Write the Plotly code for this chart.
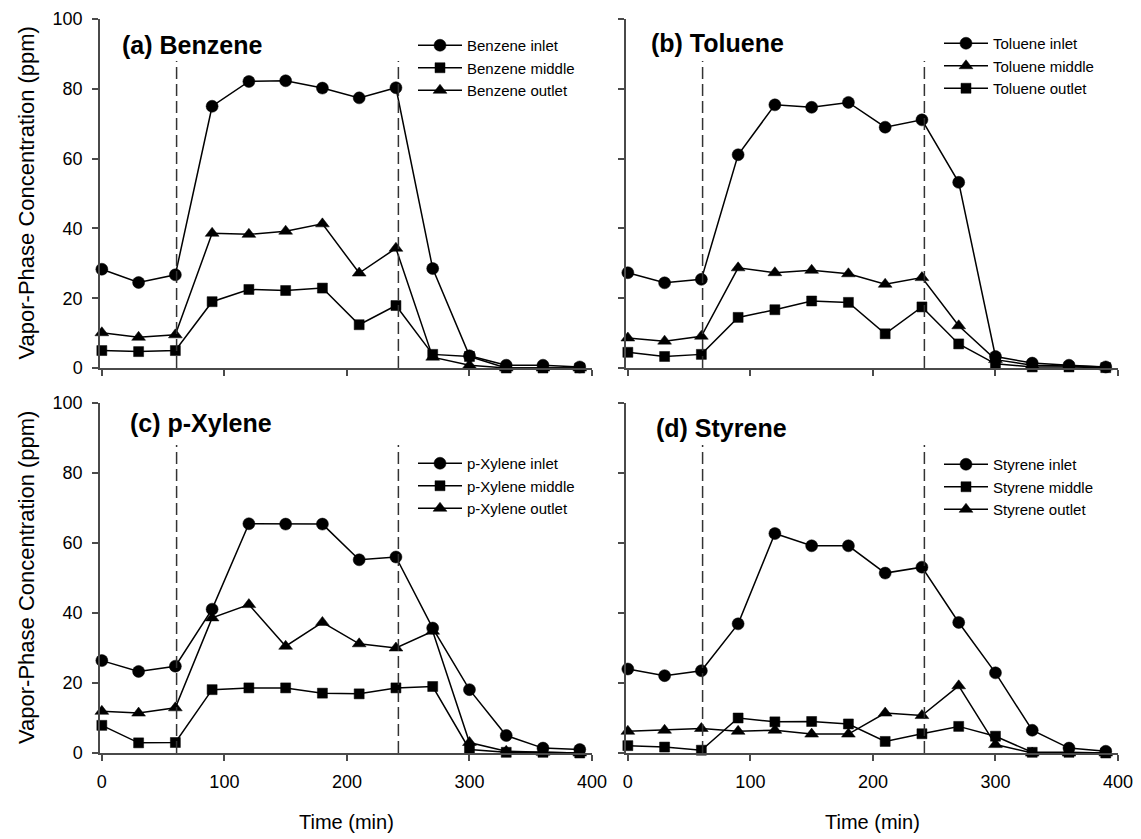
import plotly.graph_objects as go

# ---------------- data ----------------
time_min = [0, 30, 60, 90, 120, 150, 180, 210, 240, 270, 300, 330, 360, 390]
phase_times = [61, 242]          # dashed lines (start / stop of loading)
phase_line_top = 88

benzene_inlet  = [28.3, 24.5, 26.7, 75.0, 82.1, 82.3, 80.2, 77.4, 80.3, 28.5, 3.5, 0.8, 0.8, 0.3]
benzene_middle = [5.0, 4.7, 5.0, 19.0, 22.5, 22.2, 22.9, 12.4, 17.9, 3.9, 3.3, 0.0, 0.0, 0.0]
benzene_outlet = [10.1, 8.8, 9.5, 38.6, 38.3, 39.2, 41.3, 27.2, 34.3, 3.1, 0.8, 0.0, 0.0, 0.0]

toluene_inlet  = [27.3, 24.4, 25.4, 61.1, 75.4, 74.7, 76.1, 69.0, 71.1, 53.2, 3.3, 1.4, 0.8, 0.3]
toluene_middle = [8.6, 7.7, 9.1, 28.7, 27.3, 28.0, 27.0, 24.0, 25.9, 12.1, 2.4, 0.8, 0.6, 0.3]
toluene_outlet = [4.5, 3.3, 3.9, 14.5, 16.7, 19.2, 18.8, 9.8, 17.5, 6.9, 1.2, 0.3, 0.3, 0.1]

xylene_inlet  = [26.4, 23.3, 24.8, 41.1, 65.5, 65.4, 65.4, 55.2, 56.0, 35.7, 18.1, 5.0, 1.4, 1.0]
xylene_middle = [7.9, 2.9, 3.0, 18.1, 18.6, 18.6, 17.1, 16.9, 18.6, 19.0, 1.0, 0.2, 0.2, 0.0]
xylene_outlet = [11.9, 11.4, 12.9, 38.6, 42.4, 30.5, 37.3, 31.2, 30.0, 34.8, 3.0, 0.5, 0.2, 0.0]

styrene_inlet  = [24.0, 22.1, 23.5, 36.9, 62.7, 59.2, 59.2, 51.4, 53.1, 37.3, 22.9, 6.5, 1.4, 0.5]
styrene_middle = [2.1, 1.7, 0.8, 10.0, 8.9, 9.0, 8.3, 3.3, 5.5, 7.6, 4.8, 0.2, 0.2, 0.0]
styrene_outlet = [6.2, 6.5, 7.0, 6.2, 6.5, 5.4, 5.4, 11.4, 10.7, 19.2, 2.4, 0.0, 0.0, 0.0]

x_ticks = [0, 100, 200, 300, 400]
y_ticks = [0, 20, 40, 60, 80, 100]
x_title = "Time (min)"
y_title = "Vapor-Phase Concentration (ppm)"

panels = [
    dict(title="(a) Benzene", series=[("Benzene inlet", benzene_inlet, "circle"),
                                      ("Benzene middle", benzene_middle, "square"),
                                      ("Benzene outlet", benzene_outlet, "triangle-up")]),
    dict(title="(b) Toluene", series=[("Toluene inlet", toluene_inlet, "circle"),
                                      ("Toluene middle", toluene_middle, "triangle-up"),
                                      ("Toluene outlet", toluene_outlet, "square")]),
    dict(title="(c) p-Xylene", series=[("p-Xylene inlet", xylene_inlet, "circle"),
                                       ("p-Xylene middle", xylene_middle, "square"),
                                       ("p-Xylene outlet", xylene_outlet, "triangle-up")]),
    dict(title="(d) Styrene", series=[("Styrene inlet", styrene_inlet, "circle"),
                                      ("Styrene middle", styrene_middle, "square"),
                                      ("Styrene outlet", styrene_outlet, "triangle-up")]),
]

# ---------------- layout geometry ----------------
W, H = 1141, 839
FONT = "Liberation Sans, Arial, Helvetica, sans-serif"
AX = "#4a4a4a"

def px_x(p): return p / W
def px_y(p): return 1 - p / H

x_domains = [[px_x(100), px_x(592)], [px_x(626), px_x(1118)]]
y_domains = [[px_y(368), px_y(19)], [px_y(753), px_y(403)]]
title_pos = [(15, 92.6), (17, 93), (21, 94.3), (21, 92.9)]
legend_tops = [29, 27, 447, 448]
legend_lefts = [413, 939, 413, 939]

fig = go.Figure()
sizes = {"circle": 12, "square": 10, "triangle-up": 12}

for i, pan in enumerate(panels):
    r, c = divmod(i, 2)
    sfx = "" if i == 0 else str(i + 1)
    xa, ya = "x" + sfx, "y" + sfx
    leg = "legend" + sfx
    for name, vals, sym in pan["series"]:
        fig.add_trace(go.Scatter(
            x=time_min, y=vals, name=name, mode="lines+markers",
            xaxis=xa, yaxis=ya, legend=leg, cliponaxis=False,
            line=dict(color="black", width=1.5),
            marker=dict(symbol=sym, size=sizes[sym], color="black",
                        line=dict(color="black", width=0.5)),
        ))
    fig.layout["xaxis" + sfx] = dict(
        domain=x_domains[c], anchor=ya, range=[-1.5, 400],
        showgrid=False, zeroline=False, showline=True, linecolor=AX, linewidth=1.5,
        ticks="outside", ticklen=6, tickwidth=1.5, tickcolor=AX,
        tickvals=x_ticks, showticklabels=(r == 1), ticklabelstandoff=6,
        tickfont=dict(size=18, color="black", family=FONT), automargin=False)
    fig.layout["yaxis" + sfx] = dict(
        domain=y_domains[r], anchor=xa, range=[0, 100],
        showgrid=False, zeroline=False, showline=True, linecolor=AX, linewidth=1.5,
        ticks="outside", ticklen=6, tickwidth=1.5, tickcolor=AX,
        tickvals=y_ticks, showticklabels=(c == 0), ticklabelstandoff=6,
        tickfont=dict(size=18, color="black", family=FONT), automargin=False)
    for t in phase_times:
        fig.add_shape(type="line", xref=xa, yref=ya, x0=t, x1=t, y0=0, y1=phase_line_top,
                      line=dict(color="#333333", width=1.5, dash="12px,5px"))
    tx, ty = title_pos[i]
    fig.add_annotation(xref=xa, yref=ya, x=tx, y=ty, text="<b>" + pan["title"] + "</b>",
                       showarrow=False, xanchor="left", yanchor="middle",
                       font=dict(size=25, color="black", family=FONT))
    fig.layout[leg] = dict(
        x=px_x(legend_lefts[i]), y=px_y(legend_tops[i]), xanchor="left", yanchor="top",
        bgcolor="rgba(0,0,0,0)", borderwidth=0,
        font=dict(size=15, color="black", family=FONT), itemwidth=44,
        tracegroupgap=0)

# axis titles
for yc in [(19 + 368) / 2, (403 + 753) / 2]:
    fig.add_annotation(xref="paper", yref="paper", x=px_x(26), y=px_y(yc), text=y_title,
                       textangle=-90, showarrow=False, xanchor="center", yanchor="middle",
                       font=dict(size=22, color="black", family=FONT))
for xc in [(100 + 592) / 2, (626 + 1118) / 2]:
    fig.add_annotation(xref="paper", yref="paper", x=px_x(xc), y=px_y(822), text=x_title,
                       showarrow=False, xanchor="center", yanchor="middle",
                       font=dict(size=20, color="black", family=FONT))

fig.update_layout(
    width=W, height=H, margin=dict(l=0, r=0, t=0, b=0),
    paper_bgcolor="white", plot_bgcolor="white",
    font=dict(family=FONT, color="black"),
    showlegend=True,
)

fig.write_html("out.html", config={"displayModeBar": False},
               post_script="document.body.style.margin='0';document.body.style.overflow='hidden';")
